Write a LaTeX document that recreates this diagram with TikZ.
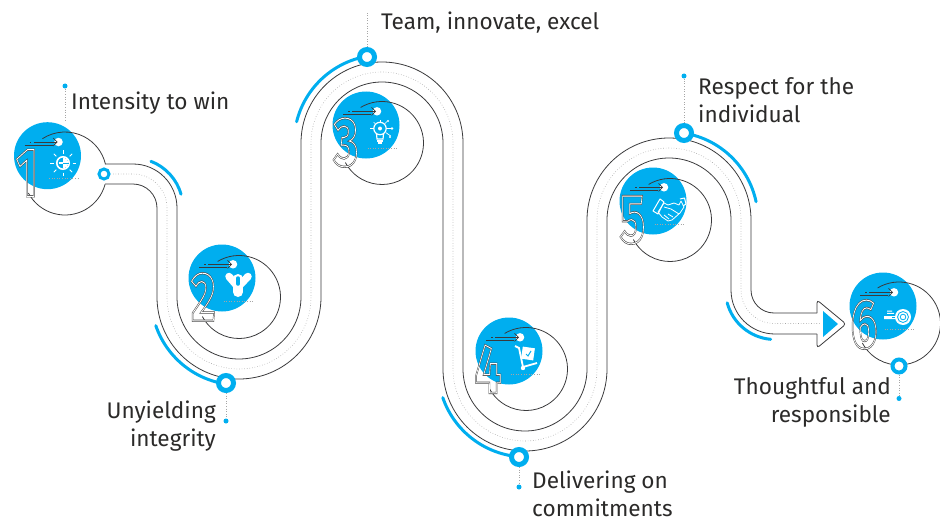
\documentclass[tikz,border=0pt]{standalone}
\usepackage{fontspec}
\usetikzlibrary{arrows.meta}
\setmainfont{Fira Sans}
\newfontfamily\digitfont{Fira Sans}

\definecolor{pathblue}{HTML}{00AEEF}
\definecolor{pathink}{HTML}{3A3A3C}
\definecolor{labelink}{HTML}{2B2A29}

% one side of the road: radii of corner, U-bend, arch, U-bend, arch, corner
\newcommand{\roadside}[6]{
  arc[start angle=90,end angle=0,radius=#1] -- ++(0,-89)
  arc[start angle=180,end angle=360,radius=#2] -- ++(0,154)
  arc[start angle=180,end angle=0,radius=#3] -- ++(0,-226)
  arc[start angle=180,end angle=360,radius=#4] -- ++(0,149)
  arc[start angle=180,end angle=0,radius=#5] -- ++(0,-70)
  arc[start angle=180,end angle=270,radius=#6]
}
\newcommand{\hollowdigit}[1]{%
  \rlap{\special{pdf:code 1 Tr 2.2 w 0.3 G}#1}%
  \special{pdf:code 1 Tr 0.9 w 1 G}#1\special{pdf:code 0 Tr 0 G}}

\tikzset{
  roadline/.style={draw=pathink,line width=0.8pt},
  roaddots/.style={draw=gray!70,line width=0.6pt,dotted},
  bluearc/.style={draw=pathblue,line width=3pt,line cap=round},
  disc/.style={circle,fill=pathblue,minimum size=67pt,inner sep=0pt},
  spot/.style={circle,fill=white,minimum size=8.5pt,inner sep=0pt},
  ring/.style={circle,draw=pathblue,fill=white,line width=5pt,minimum size=15pt,inner sep=0pt},
  smallring/.style={circle,draw=pathblue,fill=white,line width=3pt,minimum size=10pt,inner sep=0pt},
  enddot/.style={circle,fill=pathblue,minimum size=5pt,inner sep=0pt},
  leader/.style={draw=gray!70,line width=0.6pt,dotted},
  caption/.style={inner sep=0pt,text=labelink,font=\fontsize{22.6}{28}\selectfont},
  numeral/.style={inner sep=0pt,xscale=0.68,transform shape,font=\digitfont\bfseries\fontsize{69}{69}\selectfont},
  icon/.style={draw=white,line width=1.2pt}
}

\begin{document}
\begin{tikzpicture}[x=1pt,y=1pt]
\useasboundingbox (0,-519) rectangle (940,0);

% road
\draw[roadline] (105,-164) -- (133,-164) \roadside{44}{62}{81}{62}{82}{23} -- (817,-313);
\draw[roadline] (105,-184) -- (133,-184) \roadside{24}{82}{61}{82}{62}{44} -- (817,-334);
\draw[roaddots] (113,-174) -- (133,-174) \roadside{34}{72}{71}{72}{72}{33.5} -- (820,-323.5);
\draw[roadline,rounded corners=3pt] (817,-313) -- (817,-300) -- (846,-324) -- (817,-348) -- (817,-334);
\fill[pathblue] (823,-311) -- (838,-324) -- (823,-337) -- cycle;

% blue arcs beside the road
\draw[bluearc] (133,-208) ++(69:50) arc[start angle=69,end angle=16,radius=50];
\draw[bluearc] (239,-297) ++(199:88) arc[start angle=199,end angle=265,radius=88];
\draw[bluearc] (382,-143) ++(166:88) arc[start angle=166,end angle=100,radius=88];
\draw[bluearc] (526,-369) ++(199:88) arc[start angle=199,end angle=265,radius=88];
\draw[bluearc] (670,-220) ++(12:88) arc[start angle=12,end angle=80,radius=88];
\draw[bluearc] (775,-290) ++(195:49.5) arc[start angle=195,end angle=265,radius=49.5];

% stations
\foreach \num/\bx/\by/\cx/\cy in {
  2/222/-278/239/-297,
  3/366/-125/382/-143,
  4/509/-351/526/-369,
  5/653/-201/670/-220,
  6/883/-306/899/-323.5}{
  \node[disc] (disc\num) at (\bx,\by) {};
  \draw[roadline] (\cx,\cy) ++(121:41.5) arc[start angle=121,end angle=-152,radius=41.5];
}
\node[disc] (disc1) at (47.5,-155.7) {};
\draw[roadline] (65,-173.5) ++(123:41.5) arc[start angle=123,end angle=13,radius=41.5];
\draw[roadline] (65,-173.5) ++(-15:41.5) arc[start angle=-15,end angle=-152,radius=41.5];

% arrows and dotted rules in the discs
\foreach \num in {1,...,6}{
  \node[spot] (spot\num) at ([shift={(11,13.7)}]disc\num.center) {};
  \draw[pathink,line width=0.7pt,-{Straight Barb[length=4pt,width=8pt]}] ([shift={(-14,13.7)}]disc\num.center) -- ([shift={(10,13.7)}]disc\num.center);
  \draw[pathink,line width=0.7pt] ([shift={(-23,10.5)}]disc\num.center) -- ([shift={(5,10.5)}]disc\num.center);
  \draw[pathink,line width=0.7pt] ([shift={(-18,13.7)}]disc\num.center) -- ([shift={(-16.5,13.7)}]disc\num.center);
  \draw[leader] ([shift={(1.5,-23)}]disc\num.center) -- ([shift={(32,-23)}]disc\num.center);
}

% icon 1
\draw[icon,line width=1.6pt] (63,-163) circle[radius=6.2];
\fill[white] (63,-163) ++(90:5.5) arc[start angle=90,end angle=-90,radius=5.5] -- cycle;
\fill[white] (59,-163.7) rectangle (63,-162.3);
\fill[pathblue] (63,-163.5) rectangle (69,-162.5);
\foreach \a in {0,45,...,315}{
  \draw[icon,line width=0.8pt] (63,-163) ++(\a:9.5) -- ++(\a:3.5);
}
% icon 2
\draw[white,line width=7.5pt,line cap=round] (229,-276.5) -- (238,-287);
\draw[white,line width=7.5pt,line cap=round] (248,-276.5) -- (238,-287);
\draw[white,line width=10pt,line cap=round] (238,-279) -- (238,-292);
\draw[pathblue,line width=3.5pt,line cap=round] (238,-278) -- (238,-284);
% icon 3
\draw[icon] (380,-128.5) circle[radius=6.2];
\draw[icon] (376.5,-134) -- (377,-139) -- (383,-139) -- (383.5,-134);
\draw[icon] (377,-141) -- (383,-141) (378,-143) -- (382,-143);
\fill[white] (380,-128.5) circle[radius=2];
\foreach \a/\r in {90/8,135/8,45/9,0/12,-35/12,180/9}{
  \draw[icon,line width=0.7pt] (380,-128.5) ++(\a:7) -- ++(\a:\r-6);
}
\fill[white] (392,-128.5) circle[radius=1.3] (388,-121) circle[radius=1.1] (390,-137) circle[radius=1.1];
% icon 4
\draw[icon,line width=1.8pt] (515,-346) -- (519,-348) -- (523,-367) -- (537,-363);
\fill[white] (523,-368) circle[radius=2.2];
\draw[icon,fill=white,rotate around={-8:(528,-353.5)}] (522.5,-348) rectangle (533.5,-359);
\draw[pathblue,line width=1pt] (526,-354) -- (528,-356) -- (531,-351);
% icon 5
\draw[icon,line width=0.8pt,line join=round] (658,-212) -- (664,-203) -- (668,-205) -- (674,-203) -- (679,-205) -- (681,-201) -- (684,-207) -- (680,-213) -- (672,-220) -- (668,-221) -- (662,-217) -- cycle;
\draw[icon,line width=0.8pt] (664,-207) -- (671,-209) -- (679,-214);
\draw[icon,line width=0.8pt] (668,-214) -- (673,-217) (664,-215) -- (669,-219);
\draw[icon,line width=1pt,line join=round] (653,-211) -- (660,-199) -- (664,-202) -- (658,-214) -- cycle;
\draw[icon,line width=1pt,line join=round] (680,-199) -- (684.5,-198) -- (686,-204) -- (683,-206);
% icon 6
\fill[white] (887,-310.5) rectangle (892,-311.5) (887,-312.8) rectangle (894,-313.8) (884,-316) rectangle (898,-319);
\fill[white] (903,-317) circle[radius=8];
\draw[pathblue,line width=0.8pt] (903,-317) circle[radius=5.5] (903,-317) circle[radius=2.8];
\fill[pathblue] (892,-316.5) rectangle (895,-317.5);

% numerals
\node[numeral] (num1) at (27,-173) {\hollowdigit{1}};
\node[numeral] (num2) at (203.5,-297) {\hollowdigit{2}};
\node[numeral] (num3) at (346,-142.5) {\hollowdigit{3}};
\node[numeral] (num4) at (488,-369) {\hollowdigit{4}};
\node[numeral] (num5) at (632.5,-220) {\hollowdigit{5}};
\node[numeral] (num6) at (864,-324.5) {\hollowdigit{6}};

% markers with their dotted leaders
\node[smallring] (mark1) at (104,-174) {};
\node[ring] (mark2) at (226,-383) {};
\node[ring] (mark3) at (367,-57) {};
\node[ring] (mark4) at (519,-457) {};
\node[ring] (mark5) at (684,-133) {};
\node[ring,line width=4pt,minimum size=13pt] (mark6) at (899,-366) {};
\node[enddot] (tip1) at (65,-86) {};
\coordinate (foot1) at (65,-122);
\node[enddot] (tip2) at (226,-421) {};
\coordinate (tip3) at (367,-12);
\node[enddot] (tip4) at (519,-487) {};
\node[enddot] (tip5) at (684,-76) {};
\node[enddot] (tip6) at (899,-398.5) {};
\draw[leader] (tip1) -- (foot1);
\draw[leader] (mark2) -- (tip2);
\draw[leader] (mark3) -- (tip3);
\draw[leader] (mark4) -- (tip4);
\draw[leader] (mark5) -- (tip5);
\draw[leader] (mark6) -- (tip6);

% captions
\node[caption,anchor=west] (win) at (71,-103.5) {Intensity to win};
\node[caption,anchor=east,align=right] (integrity) at (216,-426.5) {Unyielding\\integrity};
\node[caption,anchor=west] (team) at (381,-23) {Team, innovate, excel};
\node[caption,anchor=west,align=left] (commit) at (532,-493.5) {Delivering on\\commitments};
\node[caption,anchor=west,align=left] (respect) at (698,-100) {Respect for the\\individual};
\node[caption,anchor=east,align=right] (thought) at (891,-402.5) {Thoughtful and\\responsible};
\end{tikzpicture}
\end{document}
